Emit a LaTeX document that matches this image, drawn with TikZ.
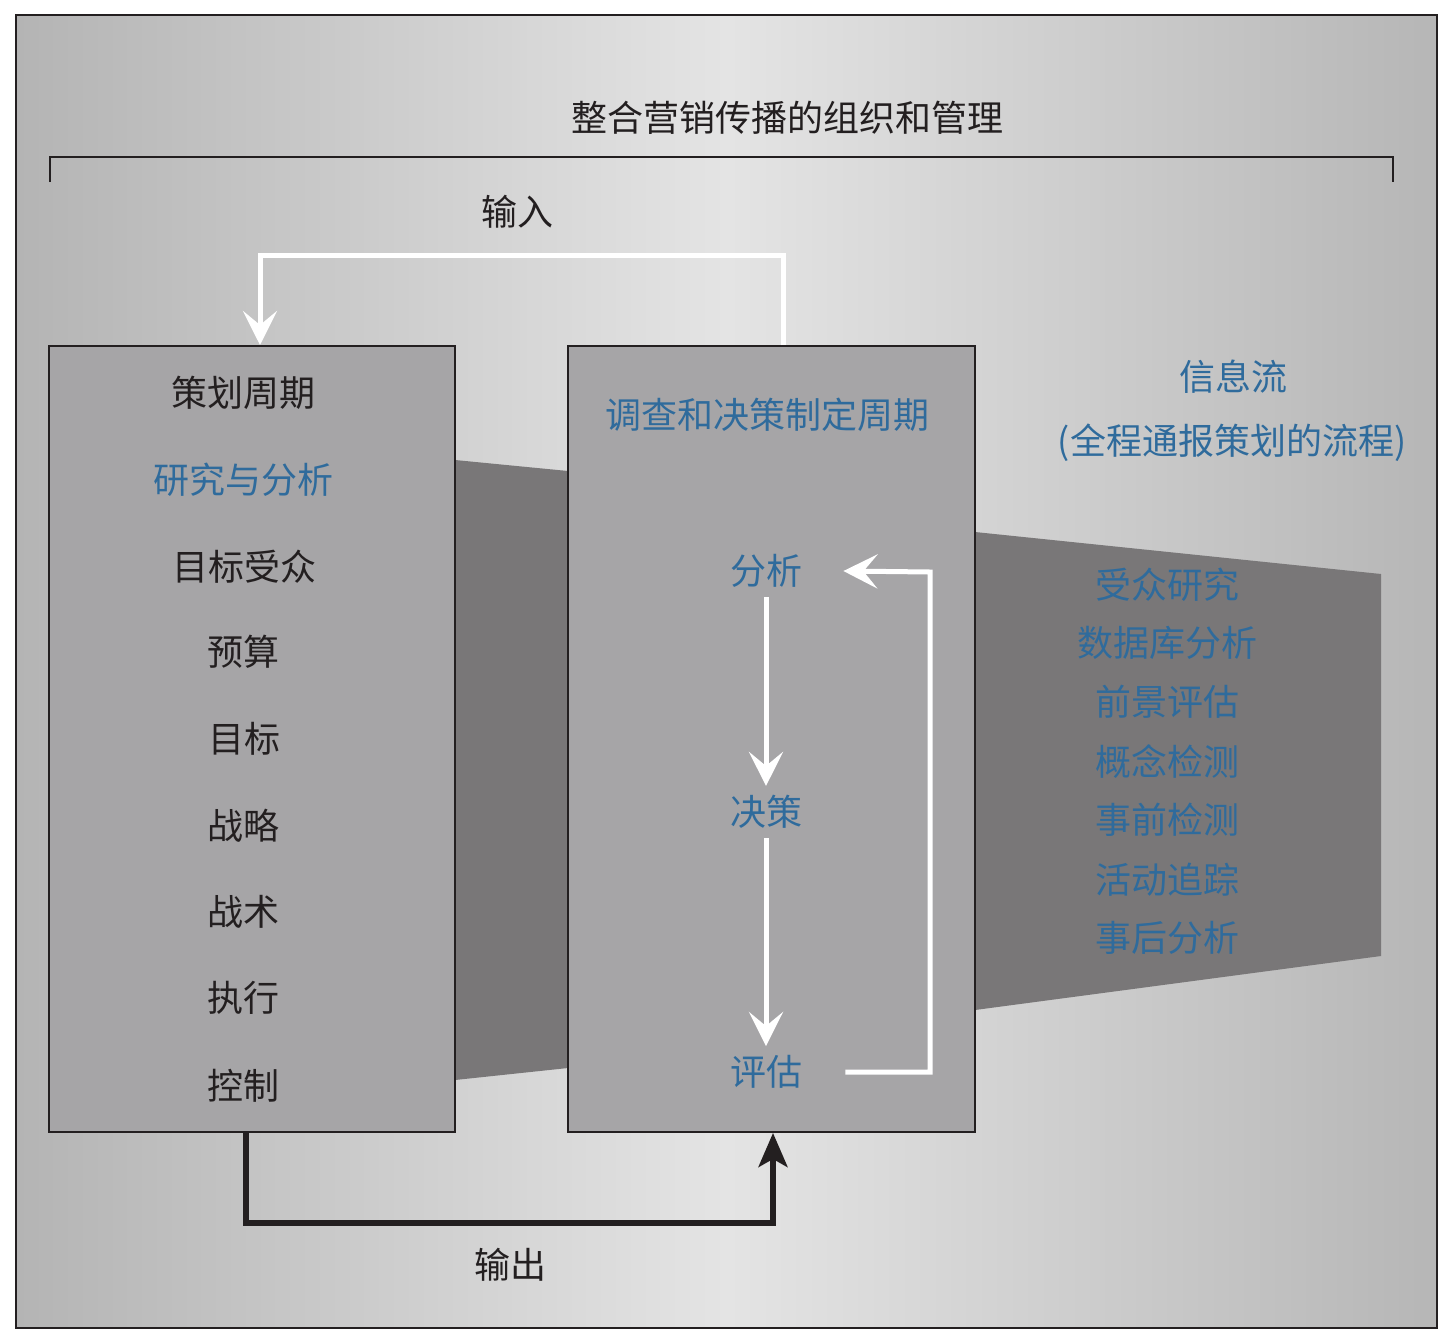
\documentclass[tikz,border=0pt]{standalone}
\usepackage{fontspec}
\newfontfamily\cjk{Noto Sans CJK SC}
\usetikzlibrary{arrows.meta}

\definecolor{inkblack}{HTML}{231F20}
\definecolor{infoblue}{HTML}{2F6B9C}
\definecolor{boxgray}{HTML}{A6A5A7}
\definecolor{bandgray}{HTML}{797778}
\definecolor{edgegrayL}{HTML}{B4B4B4}
\definecolor{edgegrayM}{HTML}{E4E4E4}
\definecolor{edgegrayR}{HTML}{B6B6B6}

\tikzset{
  darktext/.style={text=inkblack},
  bluetext/.style={text=infoblue},
  cyclebox/.style={draw=inkblack, line width=1pt, fill=boxgray, inner sep=0pt},
  whiteflow/.style={draw=white, line width=2.5pt,
    -{Stealth[length=17pt, width=17pt, inset=7pt]}},
  blackflow/.style={draw=inkblack, line width=2.6pt,
    -{Stealth[length=17pt, width=14.5pt, inset=4pt]}},
  bracketline/.style={draw=inkblack, line width=1pt}
}

\begin{document}
\begin{tikzpicture}[x=0.5pt, y=-0.5pt,
    every node/.style={font=\cjk\fontsize{18}{20}\selectfont, inner sep=4.5pt}]
  \useasboundingbox (0,0) rectangle (1454,1343);

  % Draw the frame
  \shade[left color=edgegrayL, right color=edgegrayR, middle color=edgegrayM]
    (16,15) rectangle (1437,1328);
  \draw[line width=1pt, inkblack] (16,15) rectangle (1437,1328);

  % Title and bracket
  \node[darktext] (title) at (787,118) {整合营销传播的组织和管理};
  \draw[bracketline] (50,182) -- (50,157) -- (1393,157) -- (1393,182);

  % Draw the information flow band
  \fill[bandgray] (455,460) -- (568,471) -- (975,532) -- (1381,574)
    -- (1381,956) -- (975,1010) -- (568,1068) -- (455,1080) -- cycle;

  % Draw the two boxes
  \node[cyclebox, minimum width=203pt, minimum height=393pt] (plan) at (252,739) {};
  \node[cyclebox, minimum width=203.5pt, minimum height=393pt] (research) at (771.5,739) {};

  % Planning cycle
  \node[darktext] (plantitle) at (243,393) {策划周期};
  \node[bluetext] (study) at (243,480) {研究与分析};
  \node[darktext] (audience) at (244,567) {目标受众};
  \node[darktext] (budget) at (243,652) {预算};
  \node[darktext] (goal) at (244,739) {目标};
  \node[darktext] (strategy) at (243,826) {战略};
  \node[darktext] (tactics) at (243,912) {战术};
  \node[darktext] (execute) at (243,998) {执行};
  \node[darktext] (control) at (243,1086) {控制};

  % Research and decision cycle
  \node[bluetext] (restitle) at (767,415) {调查和决策制定周期};
  \node[bluetext] (analysis) at (766,571) {分析};
  \node[bluetext] (decision) at (766,812) {决策};
  \node[bluetext] (evaluation) at (766,1072) {评估};

  \draw[whiteflow] (analysis) -- (decision);
  \draw[whiteflow] (decision) -- (evaluation);
  \coordinate (loopR) at (930,572);
  \draw[whiteflow] ([xshift=17pt]evaluation.east) -| (loopR) -- ([xshift=16pt]analysis.east);

  % Information flow
  \node[bluetext] (infoflow) at (1233,377) {信息流};
  \node[bluetext] (infonote) at (1232,443) {(全程通报策划的流程)};
  \node[bluetext] (aud) at (1167,585) {受众研究};
  \node[bluetext] (db) at (1167,643) {数据库分析};
  \node[bluetext] (prospect) at (1167,702) {前景评估};
  \node[bluetext] (concept) at (1167,762) {概念检测};
  \node[bluetext] (pretest) at (1167,820) {事前检测};
  \node[bluetext] (tracking) at (1167,880) {活动追踪};
  \node[bluetext] (posttest) at (1167,938) {事后分析};

  % Input and output
  \node[darktext] (input) at (517,212) {输入};
  \node[darktext] (output) at (510,1265) {输出};
  \coordinate (inL) at (260,255);
  \coordinate (inR) at (783,255);
  \draw[whiteflow] (research.north -| inR) -- (inR) -- (inL) -- (plan.north -| inL);
  \coordinate (outL) at (246,1223);
  \coordinate (outR) at (773,1223);
  \draw[blackflow] (plan.south -| outL) -- (outL) -- (outR) -- (research.south -| outR);

\end{tikzpicture}
\end{document}
